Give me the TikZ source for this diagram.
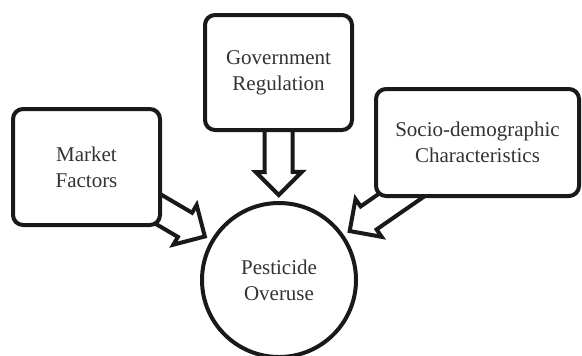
\documentclass[tikz,border=0pt]{standalone}
\usepackage{fontspec}
\setmainfont{Liberation Serif}
\usetikzlibrary{calc,backgrounds}

\tikzset{
	factor/.style={draw=black!90, line width=2pt, rounded corners=5pt, fill=white, align=center, text=black!80, font=\fontsize{10.5}{13}\selectfont},
	outcome/.style={circle, draw=black!90, line width=2pt, fill=white, align=center, inner sep=0pt, minimum size=77pt, text=black!80, font=\fontsize{10.5}{13}\selectfont},
	hollowarrow/.style={draw=black!90, line width=2pt, fill=white, line join=miter}
}
\def\shaftw{7pt}
\def\headw{11.5pt}
\def\headl{11.5pt}
% #1 = start, #2 = tip
\newcommand{\fatarrow}[2]{%
	\coordinate (hb) at ($(#2)!\headl!(#1)$);
	\draw[hollowarrow] ($(#1)!\shaftw!90:(#2)$) -- ($(hb)!\shaftw!90:(#2)$) -- ($(hb)!\headw!90:(#2)$) -- (#2)
		-- ($(hb)!\headw!-90:(#2)$) -- ($(hb)!\shaftw!-90:(#2)$) -- ($(#1)!\shaftw!-90:(#2)$) -- cycle;}

\begin{document}
\begin{tikzpicture}
	\useasboundingbox (0,0) rectangle (291pt,-177.5pt);

	\node[factor, minimum width=73.5pt, minimum height=58pt] (market) at (43.25pt,-83.5pt) {Market\\Factors};
	\node[factor, minimum width=73.5pt, minimum height=57.5pt] (gov) at (139.25pt,-36.25pt) {Government\\Regulation};
	\node[factor, minimum width=101.5pt, minimum height=53.5pt] (socio) at (238.75pt,-71.25pt) {Socio-demographic\\Characteristics};
	\node[outcome] (pest) at (139.5pt,-140pt) {Pesticide\\Overuse};

	\begin{scope}[on background layer]
		% market factors
		\coordinate (mtip) at ($(pest.center)!43pt!(market.center)$);
		\fatarrow{market.center}{mtip}
		% government regulation
		\coordinate (gtip) at ($(pest.center)!42.5pt!(gov.center)$);
		\fatarrow{gov.center}{gtip}
		% socio-demographic characteristics
		\coordinate (stip) at ($(pest.center)!43pt!(socio.center)$);
		\fatarrow{socio.center}{stip}
	\end{scope}
\end{tikzpicture}
\end{document}
